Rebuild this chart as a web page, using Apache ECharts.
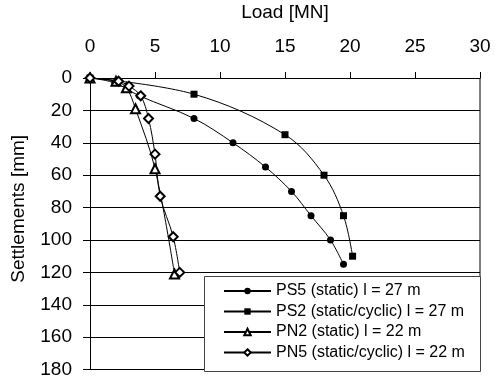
<!DOCTYPE html>
<html>
<head>
<meta charset="utf-8">
<script src="https://cdn.jsdelivr.net/npm/echarts@6/dist/echarts.min.js"></script>
<style>
  html, body { margin: 0; padding: 0; background: #fff; }
  #chart { width: 496px; height: 376px; }
</style>
</head>
<body>
<div id="chart"></div>
<script>
// load [MN], settlement [mm]
const ps5 = [[0, 0], [1.9, 3], [3.8, 11], [8, 25], [11, 40], [13.5, 55], [15.5, 70], [17, 85], [18.5, 100], [19.5, 115]];
const ps2 = [[0, 0], [8, 10], [15, 35], [18, 60], [19.5, 85], [20.2, 110]];
const pn2 = [[0, 0], [2, 2], [2.8, 6], [3.5, 19], [5, 56], [6.5, 121]];
const pn5 = [[0, 0], [2.2, 2], [3, 5], [3.9, 11], [4.5, 25], [5, 47], [5.4, 73], [6.4, 98], [6.9, 120]];

const seriesNames = [
  'PS5 (static) l = 27 m',
  'PS2 (static/cyclic) l = 27 m',
  'PN2 (static) l = 22 m',
  'PN5 (static/cyclic) l = 22 m'
];

const font = 'Liberation Sans, Arial, sans-serif';
const chart = echarts.init(document.getElementById('chart'));

const mkSeries = (name, data, symbol, size, hollow) => ({
  name,
  type: 'line',
  data,
  smooth: 0.35,
  symbol,
  symbolSize: size,
  showAllSymbol: true,
  lineStyle: { color: '#000', width: 1 },
  itemStyle: hollow
    ? { color: '#fff', borderColor: '#000', borderWidth: 2 }
    : { color: '#000', borderColor: '#000', borderWidth: 0 },
  emphasis: { disabled: true },
  z: 5
});

chart.setOption({
  animation: false,
  backgroundColor: '#fff',
  grid: { left: 90, top: 78, width: 390, height: 291.6, outerBoundsMode: 'none', containLabel: false },
  xAxis: {
    type: 'value',
    position: 'top',
    min: 0, max: 30, interval: 5,
    name: 'Load [MN]',
    nameLocation: 'middle',
    nameGap: 56,
    nameTextStyle: { fontFamily: font, fontSize: 19, color: '#000' },
    axisLine: { show: true, lineStyle: { color: '#000', width: 1 } },
    axisTick: { show: true, length: 6, lineStyle: { color: '#000' } },
    axisLabel: { fontFamily: font, fontSize: 19, color: '#000', margin: 22 },
    splitLine: { show: false }
  },
  yAxis: {
    type: 'value',
    inverse: true,
    min: 0, max: 180, interval: 20,
    name: 'Settlements [mm]',
    nameLocation: 'middle',
    nameRotate: 90,
    nameGap: 62,
    nameTextStyle: { fontFamily: font, fontSize: 19, color: '#000', padding: [0, 0, 0, 30] },
    axisLine: { show: true, lineStyle: { color: '#000', width: 1 } },
    axisTick: { show: true, length: 7, lineStyle: { color: '#000' } },
    axisLabel: { fontFamily: font, fontSize: 19, color: '#000', margin: 18 },
    splitLine: { show: true, lineStyle: { color: '#000', width: 1 } }
  },
  graphic: [
    {
      type: 'line',
      shape: { x1: 480, y1: 78, x2: 480, y2: 370 },
      style: { stroke: '#000', lineWidth: 1 },
      z: 1
    },
    {
      type: 'rect',
      shape: { x: 204.5, y: 276.5, width: 276, height: 95 },
      style: { fill: '#fff', stroke: '#444', lineWidth: 1 },
      z: 10
    }
  ],
  legend: {
    orient: 'vertical',
    left: 223,
    top: 283,
    padding: 0,
    itemWidth: 47,
    itemHeight: 8,
    itemGap: 4.5,
    z: 11,
    data: seriesNames,
    textStyle: { fontFamily: font, fontSize: 16, color: '#000' },
    selectedMode: false
  },
  series: [
    mkSeries(seriesNames[0], ps5, 'circle', 7, false),
    mkSeries(seriesNames[1], ps2, 'rect', 7, false),
    mkSeries(seriesNames[2], pn2, 'triangle', 9, true),
    mkSeries(seriesNames[3], pn5, 'diamond', 9, true)
  ]
});

window.addEventListener('resize', () => chart.resize());
</script>
</body>
</html>
